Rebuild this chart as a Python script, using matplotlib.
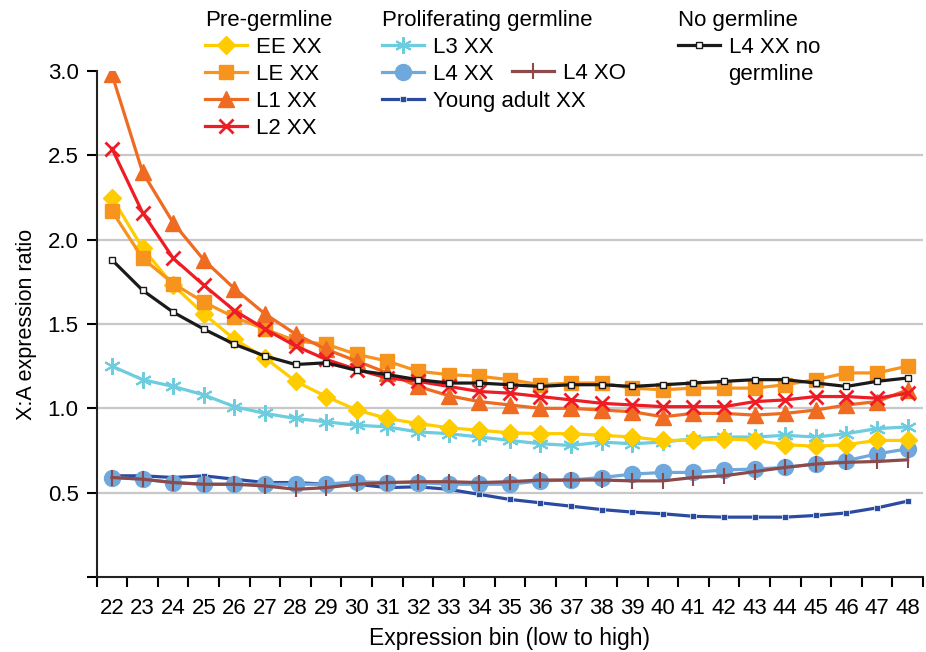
import matplotlib
matplotlib.use("Agg")
import matplotlib.pyplot as plt

plt.rcParams['font.family'] = ['Liberation Sans', 'DejaVu Sans']

# expression bins (x categories)
bins = list(range(22, 49))

# X:A expression ratio per stage
ee_xx = [2.25, 1.95, 1.73, 1.56, 1.41, 1.30, 1.16, 1.07, 0.99, 0.94, 0.91, 0.885, 0.87, 0.855,
         0.85, 0.85, 0.84, 0.83, 0.81, 0.81, 0.82, 0.81, 0.785, 0.775, 0.785, 0.81, 0.81]
le_xx = [2.17, 1.89, 1.74, 1.63, 1.54, 1.47, 1.40, 1.38, 1.32, 1.28, 1.22, 1.20, 1.19, 1.17,
         1.14, 1.15, 1.15, 1.12, 1.11, 1.12, 1.12, 1.12, 1.14, 1.17, 1.21, 1.21, 1.25]
l1_xx = [2.98, 2.40, 2.10, 1.88, 1.71, 1.56, 1.44, 1.35, 1.28, 1.21, 1.13, 1.075, 1.04, 1.02,
         1.00, 1.00, 0.99, 0.98, 0.95, 0.97, 0.97, 0.96, 0.97, 0.99, 1.02, 1.04, 1.11]
l2_xx = [2.54, 2.16, 1.89, 1.73, 1.58, 1.47, 1.37, 1.29, 1.23, 1.18, 1.16, 1.13, 1.10, 1.09,
         1.07, 1.05, 1.03, 1.02, 1.01, 1.01, 1.01, 1.04, 1.05, 1.07, 1.07, 1.06, 1.09]
l3_xx = [1.25, 1.17, 1.13, 1.08, 1.01, 0.97, 0.94, 0.92, 0.90, 0.89, 0.86, 0.85, 0.83, 0.81,
         0.79, 0.78, 0.80, 0.79, 0.80, 0.82, 0.83, 0.83, 0.84, 0.83, 0.85, 0.88, 0.89]
l4_xx = [0.59, 0.58, 0.56, 0.55, 0.55, 0.55, 0.55, 0.55, 0.565, 0.56, 0.56, 0.55, 0.55, 0.55,
         0.57, 0.575, 0.59, 0.61, 0.62, 0.62, 0.635, 0.64, 0.65, 0.67, 0.69, 0.73, 0.76]
l4_xo = [0.59, 0.58, 0.56, 0.55, 0.55, 0.54, 0.52, 0.53, 0.55, 0.56, 0.565, 0.565, 0.56, 0.565,
         0.575, 0.575, 0.575, 0.57, 0.57, 0.59, 0.60, 0.625, 0.65, 0.67, 0.68, 0.685, 0.695]
young_adult = [0.60, 0.60, 0.59, 0.60, 0.58, 0.56, 0.56, 0.55, 0.55, 0.53, 0.535, 0.52, 0.49, 0.46,
               0.44, 0.42, 0.40, 0.385, 0.375, 0.36, 0.355, 0.355, 0.355, 0.365, 0.38, 0.41, 0.45]
l4_no_germ = [1.88, 1.70, 1.57, 1.47, 1.38, 1.31, 1.26, 1.27, 1.225, 1.20, 1.17, 1.15, 1.15, 1.14,
              1.13, 1.14, 1.14, 1.13, 1.14, 1.15, 1.16, 1.17, 1.17, 1.15, 1.13, 1.16, 1.18]

fig = plt.figure(figsize=(9.26, 6.52), dpi=100)
ax = fig.add_axes([0.1044, 0.1150, 0.8923, 0.7761])

# light horizontal gridlines
for g in [0.5, 1.0, 1.5, 2.0, 2.5]:
    ax.axhline(g, color='#c8c8c8', lw=1.6, zorder=0)

lw = 2.3
ya, = ax.plot(bins, young_adult, color='#2b4ba0', lw=lw, marker='s', ms=4, mfc='#2b4ba0',
              mec='white', mew=0.5, label='Young adult XX')
l4, = ax.plot(bins, l4_xx, color='#6fa8dc', lw=lw, marker='o', ms=11.5, label='L4 XX')
xo, = ax.plot(bins, l4_xo, color='#8c4a4a', lw=lw, marker='|', ms=11, mew=1.5, label='L4 XO')
l3, = ax.plot(bins, l3_xx, color='#6dccdd', lw=lw, marker=(6, 2, 0), ms=12, mew=1.5, label='L3 XX')
ee, = ax.plot(bins, ee_xx, color='#ffcc00', lw=lw, marker='D', ms=9.5, label='EE XX')
le, = ax.plot(bins, le_xx, color='#f7941d', lw=lw, marker='s', ms=10.5, label='LE XX')
l1, = ax.plot(bins, l1_xx, color='#ef6b22', lw=lw, marker='^', ms=12, label='L1 XX')
l2, = ax.plot(bins, l2_xx, color='#ee1c25', lw=lw, marker='x', ms=10, mew=2, label='L2 XX')
ng, = ax.plot(bins, l4_no_germ, color='#1a1a1a', lw=lw, marker='s', ms=4, mfc='white',
              mec='#1a1a1a', mew=1, label='L4 XX no')

ax.set_xlim(21.5, 48.5)
ax.set_ylim(0, 3.0)
ax.set_yticks([0, 0.5, 1.0, 1.5, 2.0, 2.5, 3.0])
ax.set_yticklabels(['', '0.5', '1.0', '1.5', '2.0', '2.5', '3.0'])
ax.set_xticks(bins)
ax.set_xticklabels([str(b) for b in bins])
ax.set_xticks([b - 0.5 for b in bins] + [48.5], minor=True)
ax.tick_params(axis='x', which='major', length=0, labelsize=16, pad=15)
ax.tick_params(axis='x', which='minor', length=7, width=1.5, direction='out')
ax.tick_params(axis='y', length=7, width=1.5, labelsize=16, pad=6)
for s in ['top', 'right']:
    ax.spines[s].set_visible(False)
for s in ['left', 'bottom']:
    ax.spines[s].set_linewidth(1.5)
    ax.spines[s].set_color('#222222')

ax.set_xlabel('Expression bin (low to high)', fontsize=16.5, labelpad=6)
ax.set_ylabel('X:A expression ratio', fontsize=15.5, labelpad=8)

leg_kw = dict(frameon=False, fontsize=16, title_fontsize=16, alignment='left',
              handlelength=1.9, handletextpad=0.4, labelspacing=0.27, borderpad=0,
              borderaxespad=0, loc='upper left')
fig.legend(handles=[ee, le, l1, l2], title='Pre-germline', bbox_to_anchor=(0.221, 0.985), **leg_kw)
fig.legend(handles=[l3, l4, ya], title='Proliferating germline', bbox_to_anchor=(0.412, 0.985), **leg_kw)
fig.legend(handles=[ng], title='No germline', bbox_to_anchor=(0.732, 0.985), **leg_kw)
kw2 = dict(leg_kw)
kw2.pop('alignment')
fig.legend(handles=[xo], bbox_to_anchor=(0.553, 0.904), **kw2)
fig.text(0.7865, 0.886, 'germline', fontsize=16, ha='left', va='center')

fig.savefig('out.png', dpi=100)
